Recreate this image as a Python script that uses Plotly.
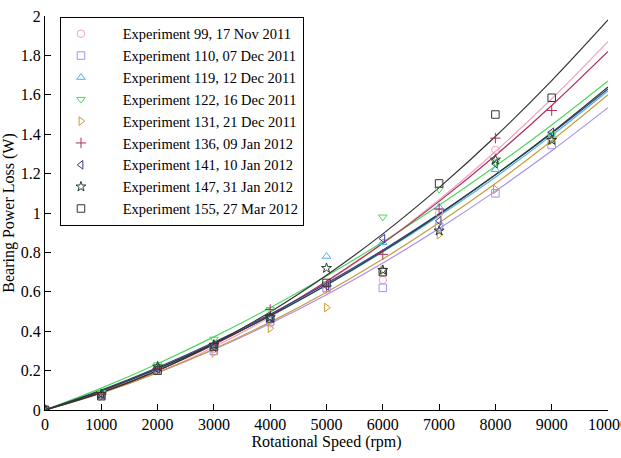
import plotly.graph_objects as go

# Measured data points (rpm, W)
speeds = [0, 1000, 2000, 3000, 4000, 5000, 6000, 7000, 8000, 9000]
names = [
    "Experiment 99, 17 Nov 2011",
    "Experiment 110, 07 Dec 2011",
    "Experiment 119, 12 Dec 2011",
    "Experiment 122, 16 Dec 2011",
    "Experiment 131, 21 Dec 2011",
    "Experiment 136, 09 Jan 2012",
    "Experiment 141, 10 Jan 2012",
    "Experiment 147, 31 Jan 2012",
    "Experiment 155, 27 Mar 2012",
]
exp99 = [0, 0.080, 0.200, 0.310, 0.440, 0.610, 0.660, 1.000, 1.320, 1.400]
exp110 = [0, 0.075, 0.200, 0.300, 0.450, 0.620, 0.620, 0.930, 1.100, 1.345]
exp119 = [0, 0.080, 0.210, 0.330, 0.470, 0.780, 0.850, 1.030, 1.220, 1.390]
exp122 = [0, 0.090, 0.230, 0.360, 0.510, 0.640, 0.980, 1.120, 1.260, 1.400]
exp131 = [0, 0.070, 0.200, 0.290, 0.415, 0.520, 0.710, 0.890, 1.120, 1.370]
exp136 = [0, 0.080, 0.210, 0.330, 0.510, 0.630, 0.790, 1.020, 1.380, 1.520]
exp141 = [0, 0.080, 0.210, 0.320, 0.470, 0.630, 0.870, 0.960, 1.250, 1.410]
exp147 = [0, 0.080, 0.220, 0.330, 0.470, 0.720, 0.710, 0.910, 1.270, 1.370]
exp155 = [0, 0.070, 0.200, 0.320, 0.465, 0.645, 0.700, 1.150, 1.500, 1.585]
measured = [exp99, exp110, exp119, exp122, exp131, exp136, exp141, exp147, exp155]

# Fitted curves at every 1000 rpm
fit_speeds = [0, 1000, 2000, 3000, 4000, 5000, 6000, 7000, 8000, 9000, 10000]
fit99 = [0, 0.084, 0.190, 0.320, 0.472, 0.648, 0.846, 1.067, 1.312, 1.580, 1.870]
fit110 = [0, 0.088, 0.190, 0.307, 0.439, 0.585, 0.746, 0.921, 1.111, 1.316, 1.535]
fit119 = [0, 0.098, 0.210, 0.337, 0.478, 0.633, 0.802, 0.985, 1.182, 1.394, 1.620]
fit122 = [0, 0.111, 0.235, 0.371, 0.519, 0.680, 0.853, 1.039, 1.237, 1.447, 1.670]
fit131 = [0, 0.087, 0.190, 0.310, 0.446, 0.598, 0.766, 0.950, 1.150, 1.367, 1.600]
fit136 = [0, 0.090, 0.200, 0.331, 0.482, 0.654, 0.846, 1.059, 1.292, 1.546, 1.820]
fit141 = [0, 0.101, 0.216, 0.344, 0.486, 0.643, 0.812, 0.996, 1.194, 1.405, 1.630]
fit147 = [0, 0.097, 0.210, 0.337, 0.478, 0.635, 0.806, 0.993, 1.194, 1.409, 1.640]
fit155 = [0, 0.088, 0.200, 0.337, 0.498, 0.684, 0.894, 1.129, 1.388, 1.672, 1.980]
fits = [fit99, fit110, fit119, fit122, fit131, fit136, fit141, fit147, fit155]

colors = ["#f2a4bb", "#a98ef0", "#4db3e6", "#4cd95a", "#c89b3c",
          "#b0305c", "#3c3c8c", "#24402e", "#333333"]
symbols = ["circle-open", "square-open", "triangle-up-open", "triangle-down-open",
           "triangle-right-open", "cross-thin-open", "triangle-left-open",
           "star-open", "square-open"]

x_ticks = [0, 1000, 2000, 3000, 4000, 5000, 6000, 7000, 8000, 9000, 10000]
y_ticks = [0, 0.2, 0.4, 0.6, 0.8, 1, 1.2, 1.4, 1.6, 1.8, 2]

FONT = "Liberation Serif"
PAD = "\u00a0" * 6

fig = go.Figure()
for f, c in zip(fits, colors):
    fig.add_trace(go.Scatter(x=fit_speeds, y=f, mode="lines", showlegend=False,
                             line=dict(color=c, width=1.2, shape="spline"),
                             hoverinfo="skip"))
for i, (m, n, c, s) in enumerate(zip(measured, names, colors, symbols)):
    fig.add_trace(go.Scatter(x=speeds, y=m, mode="markers", name=PAD + n,
                             legendgroup="g%d" % i,
                             marker=dict(symbol=s, size=7.5, color=c,
                                         line=dict(color=c, width=1))))

fig.update_layout(
    width=621, height=458,
    margin=dict(l=45, r=13, t=16, b=48),
    paper_bgcolor="white", plot_bgcolor="white",
    font=dict(family=FONT, size=16, color="black"),
    legend=dict(x=0.0266, y=0.998, xanchor="left", yanchor="top",
                bgcolor="white", bordercolor="black", borderwidth=1,
                font=dict(family=FONT, size=14.5, color="black"),
                traceorder="grouped", tracegroupgap=0, itemwidth=30),
    xaxis=dict(range=[0, 10000], tickvals=x_ticks, ticktext=[str(v) for v in x_ticks],
               ticks="inside", ticklen=6, tickcolor="black",
               showline=True, linecolor="black", linewidth=1,
               showgrid=False, zeroline=False, automargin=False,
               ticklabeloverflow="allow",
               title=dict(text="Rotational Speed (rpm)", font=dict(size=16), standoff=2),
               tickfont=dict(size=16)),
    yaxis=dict(range=[0, 2], tickvals=y_ticks, ticktext=[f"{v:g}" for v in y_ticks],
               ticks="inside", ticklen=6, tickcolor="black",
               showline=True, linecolor="black", linewidth=1,
               showgrid=False, zeroline=False, automargin=False,
               ticklabeloverflow="allow",
               title=dict(text="Bearing Power Loss (W)", font=dict(size=16), standoff=2),
               tickfont=dict(size=16)),
)
fig.write_html("out.html")
